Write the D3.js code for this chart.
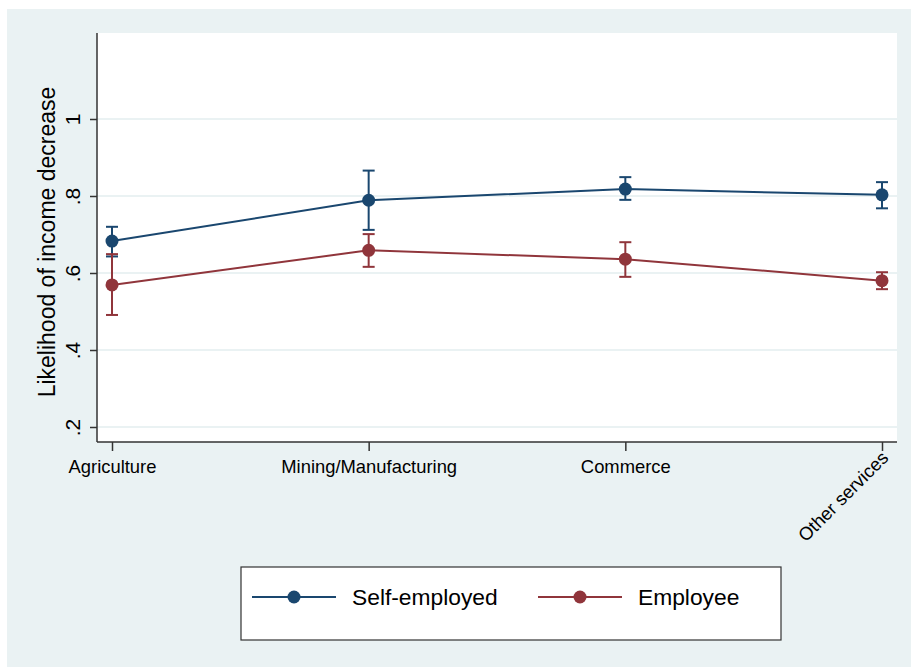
<!DOCTYPE html>
<html><head><meta charset="utf-8">
<script src="https://cdn.jsdelivr.net/npm/d3@7"></script>
<style>body{margin:0;background:#fff}svg{display:block;font-family:"Liberation Sans",Arial,sans-serif}</style>
</head><body><svg id="c" width="911" height="667"></svg>
<script>
const categories = ["Agriculture","Mining/Manufacturing","Commerce","Other services"];
const seriesNames = ["Self-employed","Employee"];
const selfEmp = [0.683, 0.789, 0.818, 0.803];
const selfLo  = [0.643, 0.712, 0.790, 0.768];
const selfHi  = [0.720, 0.866, 0.849, 0.836];
const employee = [0.569, 0.659, 0.636, 0.580];
const empLo    = [0.491, 0.616, 0.590, 0.558];
const empHi    = [0.649, 0.701, 0.680, 0.602];
const yTicks = [0.2, 0.4, 0.6, 0.8, 1];
const yTickLabels = [".2", ".4", ".6", ".8", "1"];
const yTitle = "Likelihood of income decrease";

const colors = ["#1a476f", "#90353b"];
const svg = d3.select("#c");
svg.append("rect").attr("x",7).attr("y",9).attr("width",904).attr("height",658).attr("fill","#eaf2f3");

const L=97,R=897,T=33,B=442;
svg.append("rect").attr("x",L).attr("y",T).attr("width",R-L).attr("height",B-T).attr("fill","#fff");

const x = d3.scalePoint().domain(categories).range([112,882]);
const y = d3.scaleLinear().domain([0.2,1]).range([427,119]);

// grid
svg.append("g").selectAll("line").data(yTicks).join("line")
  .attr("x1",L).attr("x2",R).attr("y1",d=>y(d)).attr("y2",d=>y(d))
  .attr("stroke","#eaf2f3").attr("stroke-width",2);

// y axis
const ya = svg.append("g").attr("transform",`translate(${L},0)`)
  .call(d3.axisLeft(y).tickValues(yTicks).tickFormat((d,i)=>yTickLabels[i]).tickSize(7).tickPadding(0));
ya.select(".domain").remove();
ya.selectAll(".tick line").attr("stroke","#333").attr("stroke-width",1.5);
ya.selectAll(".tick text").attr("font-size",21).attr("fill","#000")
  .attr("text-anchor","middle").attr("x",0).attr("dy",0)
  .attr("transform","translate(-17,0) rotate(-90)");
svg.append("line").attr("x1",L).attr("x2",L).attr("y1",T).attr("y2",B).attr("stroke","#333").attr("stroke-width",1.5);

// x axis
const xa = svg.append("g").attr("transform",`translate(0,${B})`)
  .call(d3.axisBottom(x).tickSize(9).tickPadding(0));
xa.select(".domain").remove();
xa.selectAll(".tick line").attr("stroke","#333").attr("stroke-width",1.5);
xa.selectAll(".tick text").attr("font-size",18.4).attr("fill","#000").attr("dy",0).attr("y",31);
xa.selectAll(".tick text").filter(d=>d==="Other services")
  .attr("text-anchor","end").attr("y",0)
  .attr("transform","translate(7,17) rotate(-45)");
svg.append("line").attr("x1",L).attr("x2",R).attr("y1",B).attr("y2",B).attr("stroke","#333").attr("stroke-width",1.5);

// y title
svg.append("text").attr("transform",`translate(55,242) rotate(-90)`)
  .attr("text-anchor","middle").attr("font-size",23).attr("fill","#000").text(yTitle);

const series = [
  {v:selfEmp, lo:selfLo, hi:selfHi},
  {v:employee, lo:empLo, hi:empHi}
];
const line = d3.line().x((d,i)=>x(categories[i])).y(d=>y(d));
series.forEach((s,k)=>{
  const g = svg.append("g");
  g.append("path").attr("d",line(s.v)).attr("fill","none").attr("stroke",colors[k]).attr("stroke-width",2);
  categories.forEach((c,i)=>{
    const cx=x(c);
    g.append("line").attr("x1",cx).attr("x2",cx).attr("y1",y(s.lo[i])).attr("y2",y(s.hi[i])).attr("stroke",colors[k]).attr("stroke-width",2);
    [s.lo[i],s.hi[i]].forEach(v=>g.append("line").attr("x1",cx-6).attr("x2",cx+6).attr("y1",y(v)).attr("y2",y(v)).attr("stroke",colors[k]).attr("stroke-width",2));
    g.append("circle").attr("cx",cx).attr("cy",y(s.v[i])).attr("r",6.5).attr("fill",colors[k]);
  });
});

// legend
svg.append("rect").attr("x",241).attr("y",567).attr("width",540).attr("height",73).attr("fill","#fff").attr("stroke","#333").attr("stroke-width",1.2);
const lx=[252,538];
seriesNames.forEach((n,k)=>{
  svg.append("line").attr("x1",lx[k]).attr("x2",lx[k]+84).attr("y1",597).attr("y2",597).attr("stroke",colors[k]).attr("stroke-width",2);
  svg.append("circle").attr("cx",lx[k]+42).attr("cy",597).attr("r",6.5).attr("fill",colors[k]);
  svg.append("text").attr("x",lx[k]+100).attr("y",605).attr("font-size",22.8).attr("fill","#000").text(n);
});
</script></body></html>
